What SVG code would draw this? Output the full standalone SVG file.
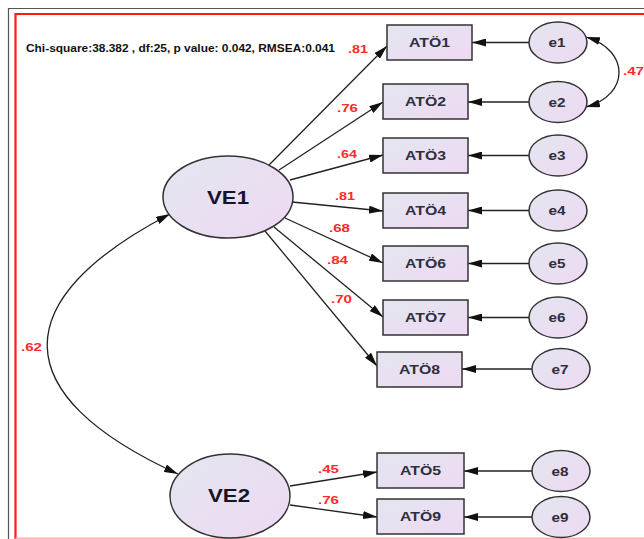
<svg xmlns="http://www.w3.org/2000/svg" width="644" height="539" viewBox="0 0 644 539">
<defs>
<linearGradient id="g" x1="0" y1="0" x2="1" y2="1">
<stop offset="0" stop-color="#e3e6ef"/>
<stop offset="1" stop-color="#eed9f3"/>
</linearGradient>
<marker id="ah" viewBox="0 0 14 8" refX="14" refY="4" markerWidth="14" markerHeight="8" markerUnits="userSpaceOnUse" orient="auto-start-reverse">
<path d="M0,0 L14,4 L0,8 z" fill="#111"/>
</marker>
<style>
.n{fill:url(#g);stroke:#333;stroke-width:1.5}
.bt{font-family:"Liberation Sans",Arial,sans-serif;font-weight:bold;font-size:12px;fill:#2e2e40;text-anchor:middle}
.lt{font-family:"Liberation Sans",Arial,sans-serif;font-weight:bold;font-size:18px;fill:#15152a;text-anchor:middle}
.r{font-family:"Liberation Sans",Arial,sans-serif;font-weight:bold;font-size:11px;fill:#ff2a2a}
.c{fill:none;stroke:#222;stroke-width:1.3;marker-end:url(#ah)}
.cc{fill:none;stroke:#222;stroke-width:1.3;marker-end:url(#ah);marker-start:url(#ah)}
</style>
</defs>
<rect width="644" height="539" fill="#fff"/>
<g id="frame" fill="none">
<path d="M8.5,539 V8.5 H644" stroke="#555" stroke-width="1.2"/>
<path d="M15.5,539 V14 H644" stroke="#ff1a1a" stroke-width="2.2"/>
<path d="M15.5,538.3 H644" stroke="#ffb3b3" stroke-width="1.5"/>
</g>
<text x="26" y="52" font-family="'Liberation Sans',Arial,sans-serif" font-weight="bold" font-size="11" fill="#111" textLength="309" lengthAdjust="spacingAndGlyphs">Chi-square:38.382 , df:25, p value: 0.042, RMSEA:0.041</text>
<g id="connectors">
<line class="c" x1="269" y1="165" x2="387" y2="46"/>
<line class="c" x1="279" y1="170" x2="383" y2="102"/>
<line class="c" x1="290" y1="180" x2="383" y2="155"/>
<line class="c" x1="292" y1="202" x2="383" y2="211"/>
<line class="c" x1="285" y1="218" x2="383" y2="263"/>
<line class="c" x1="274" y1="227" x2="383" y2="317"/>
<line class="c" x1="265" y1="231" x2="377" y2="366"/>
<line class="c" x1="290" y1="486" x2="377" y2="472"/>
<line class="c" x1="290" y1="505" x2="377" y2="517"/>
<line class="c" x1="529" y1="42.5" x2="472" y2="42.5"/>
<line class="c" x1="529" y1="102" x2="468" y2="102"/>
<line class="c" x1="529" y1="155.5" x2="468" y2="155.5"/>
<line class="c" x1="529" y1="210.5" x2="468" y2="210.5"/>
<line class="c" x1="529" y1="263.5" x2="468" y2="263.5"/>
<line class="c" x1="529" y1="317.5" x2="468" y2="317.5"/>
<line class="c" x1="532" y1="369" x2="462" y2="369"/>
<line class="c" x1="532" y1="471" x2="464" y2="471"/>
<line class="c" x1="532" y1="517" x2="464" y2="517"/>
<path class="cc" d="M586,37 C630,50 630,95 586,107"/>
<path class="cc" d="M170,214 C5,300 5,395 178,474"/>
</g>
<g id="labels">
<text class="r" x="348" y="53" textLength="20" lengthAdjust="spacingAndGlyphs">.81</text>
<text class="r" x="337" y="112" textLength="21" lengthAdjust="spacingAndGlyphs">.76</text>
<text class="r" x="337" y="158" textLength="20" lengthAdjust="spacingAndGlyphs">.64</text>
<text class="r" x="335" y="200" textLength="20" lengthAdjust="spacingAndGlyphs">.81</text>
<text class="r" x="329" y="232" textLength="21" lengthAdjust="spacingAndGlyphs">.68</text>
<text class="r" x="327" y="264" textLength="21" lengthAdjust="spacingAndGlyphs">.84</text>
<text class="r" x="331" y="303" textLength="21" lengthAdjust="spacingAndGlyphs">.70</text>
<text class="r" x="21" y="351" textLength="21" lengthAdjust="spacingAndGlyphs">.62</text>
<text class="r" x="318" y="473" textLength="21" lengthAdjust="spacingAndGlyphs">.45</text>
<text class="r" x="318" y="504" textLength="21" lengthAdjust="spacingAndGlyphs">.76</text>
<text class="r" x="623" y="75" textLength="21" lengthAdjust="spacingAndGlyphs">.47</text>
</g>
<g id="VE1"><ellipse class="n" cx="228" cy="197" rx="65" ry="41"/><text class="lt" x="228" y="203.5" textLength="42" lengthAdjust="spacingAndGlyphs">VE1</text></g>
<g id="VE2"><ellipse class="n" cx="230" cy="496" rx="60" ry="42"/><text class="lt" x="229" y="502" textLength="42" lengthAdjust="spacingAndGlyphs">VE2</text></g>
<g id="ATO1"><rect class="n" x="387" y="25" width="85" height="35"/><text class="bt" x="429.5" y="47" textLength="41" lengthAdjust="spacingAndGlyphs">ATÖ1</text></g>
<g id="ATO2"><rect class="n" x="383" y="84" width="85" height="35"/><text class="bt" x="425.5" y="106" textLength="41" lengthAdjust="spacingAndGlyphs">ATÖ2</text></g>
<g id="ATO3"><rect class="n" x="383" y="138" width="85" height="35"/><text class="bt" x="425.5" y="160" textLength="41" lengthAdjust="spacingAndGlyphs">ATÖ3</text></g>
<g id="ATO4"><rect class="n" x="383" y="193" width="85" height="35"/><text class="bt" x="425.5" y="215" textLength="41" lengthAdjust="spacingAndGlyphs">ATÖ4</text></g>
<g id="ATO6"><rect class="n" x="383" y="246" width="85" height="35"/><text class="bt" x="425.5" y="268" textLength="41" lengthAdjust="spacingAndGlyphs">ATÖ6</text></g>
<g id="ATO7"><rect class="n" x="383" y="300" width="85" height="35"/><text class="bt" x="425.5" y="322" textLength="41" lengthAdjust="spacingAndGlyphs">ATÖ7</text></g>
<g id="ATO8"><rect class="n" x="377" y="352" width="85" height="35"/><text class="bt" x="419.5" y="374" textLength="41" lengthAdjust="spacingAndGlyphs">ATÖ8</text></g>
<g id="ATO5"><rect class="n" x="377" y="453" width="87" height="35"/><text class="bt" x="420.5" y="475" textLength="41" lengthAdjust="spacingAndGlyphs">ATÖ5</text></g>
<g id="ATO9"><rect class="n" x="377" y="499" width="87" height="35"/><text class="bt" x="420.5" y="521" textLength="41" lengthAdjust="spacingAndGlyphs">ATÖ9</text></g>
<g id="e1"><ellipse class="n" cx="558" cy="42.5" rx="29" ry="20.5"/><text class="bt" x="557" y="47" textLength="17" lengthAdjust="spacingAndGlyphs">e1</text></g>
<g id="e2"><ellipse class="n" cx="558" cy="102" rx="29" ry="20.5"/><text class="bt" x="557" y="106.5" textLength="17" lengthAdjust="spacingAndGlyphs">e2</text></g>
<g id="e3"><ellipse class="n" cx="558" cy="155.5" rx="29" ry="20.5"/><text class="bt" x="557" y="160" textLength="17" lengthAdjust="spacingAndGlyphs">e3</text></g>
<g id="e4"><ellipse class="n" cx="558" cy="210.5" rx="29" ry="20.5"/><text class="bt" x="557" y="215" textLength="17" lengthAdjust="spacingAndGlyphs">e4</text></g>
<g id="e5"><ellipse class="n" cx="558" cy="263.5" rx="29" ry="20.5"/><text class="bt" x="557" y="268" textLength="17" lengthAdjust="spacingAndGlyphs">e5</text></g>
<g id="e6"><ellipse class="n" cx="558" cy="317.5" rx="29" ry="20.5"/><text class="bt" x="557" y="322" textLength="17" lengthAdjust="spacingAndGlyphs">e6</text></g>
<g id="e7"><ellipse class="n" cx="561" cy="369" rx="29" ry="20.5"/><text class="bt" x="560" y="373.5" textLength="17" lengthAdjust="spacingAndGlyphs">e7</text></g>
<g id="e8"><ellipse class="n" cx="561" cy="471" rx="29" ry="20.5"/><text class="bt" x="560" y="475.5" textLength="17" lengthAdjust="spacingAndGlyphs">e8</text></g>
<g id="e9"><ellipse class="n" cx="561" cy="517" rx="29" ry="20.5"/><text class="bt" x="560" y="521.5" textLength="17" lengthAdjust="spacingAndGlyphs">e9</text></g>
</svg>
